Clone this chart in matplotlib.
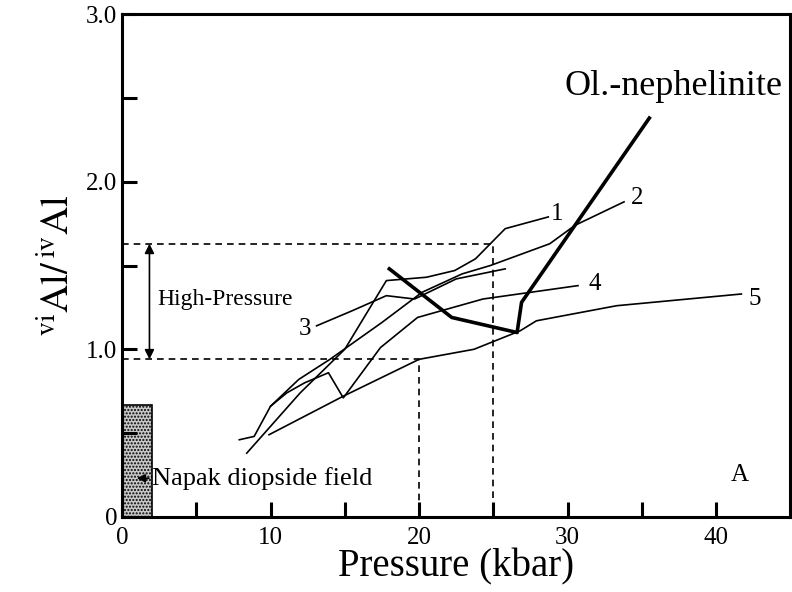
import numpy as np
import matplotlib
matplotlib.use("Agg")
import matplotlib.pyplot as plt
from matplotlib.patches import Rectangle

plt.rcParams['font.family'] = ['Liberation Serif', 'DejaVu Serif']
plt.rcParams['mathtext.fontset'] = 'stix'

# experimental runs, pressure (kbar) vs viAl/ivAl
run1_p = [8.4, 12.0, 15.0, 17.8, 20.5, 22.4, 23.8, 25.8, 28.7]
run1_v = [0.38, 0.74, 1.00, 1.41, 1.43, 1.47, 1.54, 1.72, 1.79]

run2_p = [7.9, 8.9, 10.0, 11.9, 14.0, 17.5, 20.2, 22.9, 24.8, 28.8, 30.5, 33.8]
run2_v = [0.46, 0.48, 0.66, 0.82, 0.94, 1.16, 1.34, 1.45, 1.50, 1.63, 1.74, 1.88]

run3_p = [13.1, 15.5, 17.8, 19.7, 22.5, 25.8]
run3_v = [1.14, 1.23, 1.32, 1.30, 1.42, 1.48]

run4_p = [10.0, 11.1, 12.3, 13.9, 14.9, 17.4, 19.9, 24.3, 30.7]
run4_v = [0.66, 0.74, 0.80, 0.86, 0.71, 1.01, 1.19, 1.30, 1.38]

run5_p = [9.9, 14.9, 20.0, 23.7, 26.8, 27.9, 33.3, 41.7]
run5_v = [0.49, 0.72, 0.94, 1.00, 1.11, 1.17, 1.26, 1.33]

neph_p = [18.0, 22.2, 26.6, 26.9, 35.5]
neph_v = [1.48, 1.19, 1.10, 1.28, 2.38]

run_labels = ['1', '2', '3', '4', '5']
label_p = [29.3, 34.7, 12.3, 31.8, 42.6]
label_v = [1.81, 1.90, 1.12, 1.39, 1.30]

hp_low, hp_high = 0.94, 1.63
p_low, p_high = 20, 25
napak_p, napak_v = 2.0, 0.67

fig = plt.figure(figsize=(7.92, 5.92), dpi=100)
ax = fig.add_axes([0.154, 0.127, 0.844, 0.849])

for p, v in [(run1_p, run1_v), (run2_p, run2_v), (run3_p, run3_v),
             (run4_p, run4_v), (run5_p, run5_v)]:
    ax.plot(p, v, color='black', lw=1.2)
ax.plot(neph_p, neph_v, color='black', lw=2.6)

for t, x, y in zip(run_labels, label_p, label_v):
    ax.text(x, y, t, fontsize=18, ha='center', va='center')

# dashed guide lines for the high-pressure range
ax.plot([0, p_high, p_high], [hp_high, hp_high, 0], ls=(0, (4, 3)), color='black', lw=1.2)
ax.plot([0, p_low, p_low], [hp_low, hp_low, 0], ls=(0, (4, 3)), color='black', lw=1.2)
ax.annotate('', xy=(1.85, hp_high), xytext=(1.85, hp_low),
            arrowprops=dict(arrowstyle='<|-|>', color='black', lw=1.2,
                            mutation_scale=14, shrinkA=0, shrinkB=0))
ax.text(2.4, 1.30, 'High-Pressure', fontsize=17, va='center', ha='left')

# Napak field
ax.add_patch(Rectangle((0, 0), napak_p, napak_v, facecolor='#c8c8c8',
                       edgecolor='black', hatch='.....', lw=1.2, zorder=1))
ax.annotate('Napak diopside field', xy=(1.0, 0.23), xytext=(2.0, 0.23),
            fontsize=19, va='center', ha='left',
            arrowprops=dict(arrowstyle='-|>', color='black', lw=1.2,
                            mutation_scale=12, shrinkA=0, shrinkB=0))

ax.text(37.1, 2.57, 'Ol.-nephelinite', fontsize=26, ha='center', va='center')
ax.text(41.6, 0.25, 'A', fontsize=18, ha='center', va='center')

ax.set_xlim(0, 45)
ax.set_ylim(0, 3.0)
ax.set_xticks([0, 10, 20, 30, 40])
ax.set_xticks([5, 15, 25, 35], minor=True)
ax.set_yticks([0, 1.0, 2.0, 3.0])
ax.set_yticklabels(['0', '1.0', '2.0', '3.0'])
ax.set_yticks([0.5, 1.5, 2.5], minor=True)
ax.tick_params(which='both', direction='in', length=11, width=2.2, labelsize=18,
               top=False, right=False)
ax.tick_params(axis='x', pad=7)
for s in ax.spines.values():
    s.set_linewidth(2.2)

ax.set_xlabel('Pressure (kbar)', fontsize=28, labelpad=0)
ax.set_ylabel(r'$^{\mathrm{vi}}\mathrm{Al/}\,^{\mathrm{iv}}\mathrm{Al}$', fontsize=28, labelpad=6)

fig.savefig('out.png', dpi=100)
